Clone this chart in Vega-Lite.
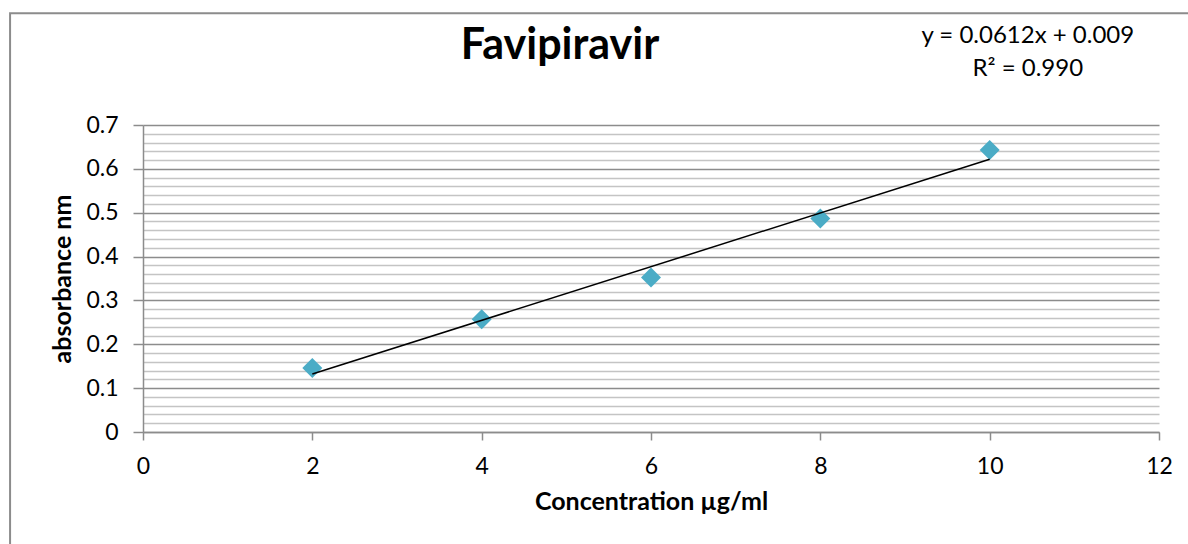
{
  "$schema": "https://vega.github.io/schema/vega-lite/v6.json",
  "autosize": {"type": "none"},
  "width": 1016,
  "height": 307,
  "padding": {"left": 143, "top": 125, "right": 29, "bottom": 112},
  "background": "white",
  "config": {"view": {"stroke": null}, "font": "Lato"},
  "title": {
    "text": "Favipiravir",
    "font": "Lato",
    "fontSize": 43,
    "fontWeight": "bold",
    "color": "black",
    "anchor": "middle",
    "frame": "group",
    "dx": -91,
    "dy": 90,
    "baseline": "alphabetic",
    "offset": 0
  },
  "data": {
    "values": [
      {"concentration": 2, "absorbance": 0.146},
      {"concentration": 4, "absorbance": 0.257},
      {"concentration": 6, "absorbance": 0.352},
      {"concentration": 8, "absorbance": 0.487},
      {"concentration": 10, "absorbance": 0.643}
    ]
  },
  "layer": [
    {
      "mark": {"type": "point", "shape": "diamond", "filled": true, "size": 400, "color": "#4BACC6", "opacity": 1},
      "encoding": {
        "x": {
          "field": "concentration",
          "type": "quantitative",
          "scale": {"domain": [0, 12], "nice": false, "zero": false},
          "axis": {
            "title": "Concentration µg/ml",
            "values": [0, 2, 4, 6, 8, 10, 12],
            "format": "d",
            "grid": false,
            "labelFlush": false,
            "domainColor": "#8c8c8c",
            "domainWidth": 1.5,
            "tickColor": "#8c8c8c",
            "tickWidth": 1.5,
            "tickSize": 8,
            "labelFont": "Lato",
            "labelFontSize": 23,
            "labelColor": "black",
            "labelPadding": 15,
            "titleFont": "Lato",
            "titleFontSize": 25,
            "titleFontWeight": "bold",
            "titleColor": "black",
            "titlePadding": 11
          }
        },
        "y": {
          "field": "absorbance",
          "type": "quantitative",
          "scale": {"domain": [0, 0.7], "nice": false, "zero": false},
          "axis": {
            "title": "absorbance nm",
            "values": [0, 0.02, 0.04, 0.06, 0.08, 0.1, 0.12, 0.14, 0.16, 0.18, 0.2, 0.22, 0.24, 0.26, 0.28, 0.3, 0.32, 0.34, 0.36, 0.38, 0.4, 0.42, 0.44, 0.46, 0.48, 0.5, 0.52, 0.54, 0.56, 0.58, 0.6, 0.62, 0.64, 0.66, 0.68, 0.7],
            "tickCount": 100,
            "labelExpr": "abs(datum.value * 10 - round(datum.value * 10)) < 0.000001 ? format(datum.value, '.1~f') : ''",
            "grid": true,
            "gridColor": {"condition": {"test": "abs(datum.value * 10 - round(datum.value * 10)) < 0.000001", "value": "#8c8c8c"}, "value": "#c4c4c4"},
            "gridWidth": 1.5,
            "domainColor": "#8c8c8c",
            "domainWidth": 1.5,
            "tickColor": "#8c8c8c",
            "tickWidth": 1.5,
            "tickSize": 10,
            "tickOpacity": {"condition": {"test": "abs(datum.value * 10 - round(datum.value * 10)) < 0.000001", "value": 1}, "value": 0},
            "labelFont": "Lato",
            "labelFontSize": 23,
            "labelColor": "black",
            "labelPadding": 15,
            "labelOverlap": false,
            "titleFont": "Lato",
            "titleFontSize": 25,
            "titleFontWeight": "bold",
            "titleColor": "black",
            "titlePadding": 10
          }
        }
      }
    },
    {
      "transform": [
        {"regression": "absorbance", "on": "concentration", "extent": [2, 10]}
      ],
      "mark": {"type": "line", "color": "black", "strokeWidth": 1.5},
      "encoding": {
        "x": {"field": "concentration", "type": "quantitative"},
        "y": {"field": "absorbance", "type": "quantitative"}
      }
    },
    {
      "data": {"values": [{"label": "chart area"}]},
      "mark": {"type": "rect", "fill": null, "stroke": "#8c8c8c", "strokeWidth": 2, "clip": false},
      "encoding": {
        "x": {"datum": -1.57, "type": "quantitative"},
        "x2": {"datum": 20},
        "y": {"datum": 0.955, "type": "quantitative"},
        "y2": {"datum": -1}
      }
    },
    {
      "data": {"values": [{"label": "trendline equation"}]},
      "mark": {"type": "text", "font": "Lato", "fontSize": 24, "fontWeight": "normal", "color": "black", "align": "center", "baseline": "middle", "lineHeight": 33, "clip": false},
      "encoding": {
        "x": {"datum": 10.45, "type": "quantitative"},
        "y": {"datum": 0.9018, "type": "quantitative"},
        "text": {"value": ["y = 0.0612x + 0.009", "R² = 0.990"]}
      }
    }
  ]
}
